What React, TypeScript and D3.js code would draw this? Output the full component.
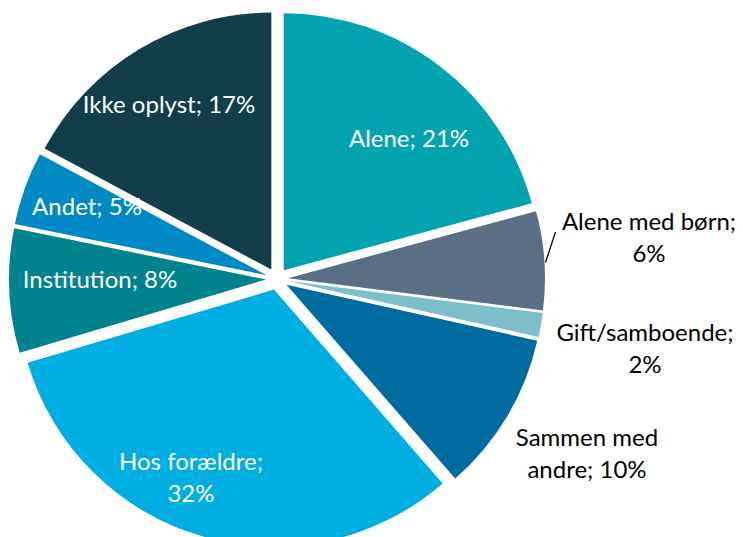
import React from 'react';
import * as d3 from 'd3';

// Boligsituation – shares in percent
const categories = [
  'Alene',
  'Alene med børn',
  'Gift/samboende',
  'Sammen med andre',
  'Hos forældre',
  'Institution',
  'Andet',
  'Ikke oplyst',
];
const values = [20.8, 6.2, 1.5, 10.1, 31.8, 7.8, 4.6, 17.2];
const colors = ['#03A4B0', '#5A6F85', '#7CBECA', '#006B9E', '#00AEE2', '#00838F', '#0089C4', '#113E4A'];

// label text lines and their placement (baseline of first line, centre x)
const labelLines = [
  ['Alene; 21%'],
  ['Alene med børn;', '6%'],
  ['Gift/samboende;', '2%'],
  ['Sammen med', 'andre; 10%'],
  ['Hos forældre;', '32%'],
  ['Institution; 8%'],
  ['Andet; 5%'],
  ['Ikke oplyst; 17%'],
];
const labelAt = [
  { x: 409, y: 147, inside: true },
  { x: 649, y: 230, inside: false },
  { x: 645, y: 341, inside: false },
  { x: 587, y: 446, inside: false },
  { x: 191, y: 470, inside: true },
  { x: 100, y: 288, inside: true },
  { x: 87, y: 215, inside: true },
  { x: 169, y: 113, inside: true },
];

const W = 743;
const H = 537;
const cx = 277;
const cy = 279;
const radius = 257;
const explode = 11;
const lineGap = 32;

export default function App() {
  const pie = d3.pie<number>().sort(null).value(d => d).startAngle(0).endAngle(2 * Math.PI);
  const arcs = pie(values);
  const arc = d3.arc<d3.PieArcDatum<number>>().innerRadius(0).outerRadius(radius);

  const shift = (a: d3.PieArcDatum<number>) => {
    const mid = (a.startAngle + a.endAngle) / 2;
    return [Math.sin(mid) * explode, -Math.cos(mid) * explode];
  };

  // leader line for "Alene med børn" – from the slice edge towards its label
  const amb = arcs[1];
  const [sx, sy] = shift(amb);
  const leadAngle = amb.startAngle + (amb.endAngle - amb.startAngle) * 0.52;
  const lx1 = cx + sx + Math.sin(leadAngle) * radius + 1;
  const ly1 = cy + sy - Math.cos(leadAngle) * radius;
  const lx2 = lx1 + 10;
  const ly2 = labelAt[1].y + 2;

  return (
    <svg width={W} height={H} style={{ position: 'absolute', left: 0, top: 0 }}
      fontFamily="Lato, 'Open Sans', sans-serif">
      <rect width={W} height={H} fill="#fff" />
      <g transform={`translate(${cx},${cy})`}>
        {arcs.map((a, i) => {
          const [dx, dy] = shift(a);
          return (
            <path key={categories[i]} d={arc(a) || ''} fill={colors[i]}
              transform={`translate(${dx},${dy})`} />
          );
        })}
      </g>
      <line x1={lx1} y1={ly1} x2={lx2} y2={ly2} stroke="#000" strokeWidth={1.3} />
      {labelLines.map((lines, i) => (
        <text key={categories[i]} x={labelAt[i].x} y={labelAt[i].y} textAnchor="middle"
          fontSize={24} fill={labelAt[i].inside ? '#fff' : '#000'}>
          {lines.map((t, j) => (
            <tspan key={j} x={labelAt[i].x} dy={j === 0 ? 0 : lineGap}>{t}</tspan>
          ))}
        </text>
      ))}
    </svg>
  );
}
